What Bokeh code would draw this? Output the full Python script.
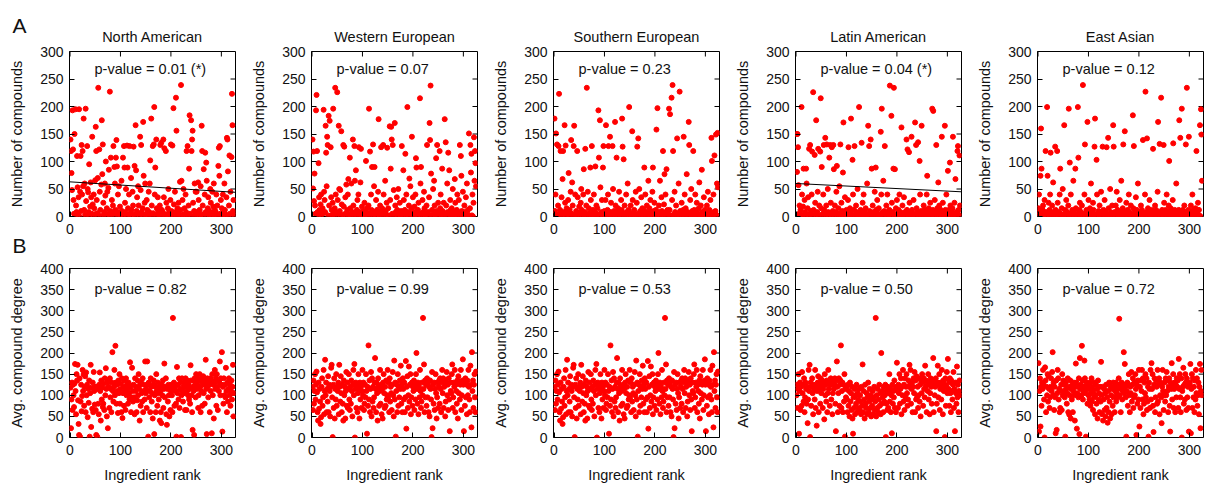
import numpy as np
from bokeh.plotting import figure
from bokeh.layouts import gridplot
from bokeh.models import Title, Label, Range1d, FixedTicker
from bokeh.embed import file_html
from bokeh.resources import INLINE

FONT = "Liberation Sans"

cuisines = ["North American", "Western European", "Southern European", "Latin American", "East Asian"]
pvalue_compounds = ["p-value = 0.01 (*)", "p-value = 0.07", "p-value = 0.23", "p-value = 0.04 (*)", "p-value = 0.12"]
pvalue_degree = ["p-value = 0.82", "p-value = 0.99", "p-value = 0.53", "p-value = 0.50", "p-value = 0.72"]
fit_intercept = [63, None, None, 60, None]
fit_slope = [-0.058, None, None, -0.046, None]
x_ticks = [0, 100, 200, 300]
compound_ticks = [0, 50, 100, 150, 200, 250, 300]
degree_ticks = [0, 50, 100, 150, 200, 250, 300, 350, 400]

# Number of compounds per ingredient, in ingredient-rank order
compounds_na = [
    140,119,79,48,193,122,30,5,150,2,195,20,8,110,53,3,35,195,0,45,110,10,130,40,119,
    55,178,12,60,3,196,28,0,128,50,44,8,95,2,18,62,35,5,145,22,0,40,15,4,66,
    163,119,30,6,70,234,2,122,45,12,0,58,175,77,131,25,3,8,60,38,100,0,15,45,5,
    52,85,3,227,10,107,0,30,6,20,128,2,90,60,12,107,139,91,4,40,8,55,0,18,3,
    5,65,10,0,107,2,128,89,25,8,50,0,129,89,15,3,40,128,6,0,70,12,2,45,20,
    127,3,92,0,166,84,10,35,6,55,20,2,0,145,48,130,8,3,15,172,74,0,25,60,4,
    2,30,12,5,0,45,8,60,102,3,178,20,0,128,6,131,199,40,89,2,140,15,0,35,10,
    5,0,20,130,2,134,12,0,8,140,35,124,3,0,119,25,4,0,15,50,2,8,0,30,131,
    10,0,129,3,197,22,0,45,8,216,156,2,15,0,25,5,0,63,12,239,65,0,30,3,50,
    2,15,0,40,8,119,0,128,3,20,87,184,5,0,175,119,140,156,25,0,10,60,2,45,8,
    45,0,6,62,30,2,12,0,55,3,165,119,20,0,86,5,40,116,8,98,65,0,15,35,3,
    10,0,50,25,2,6,45,0,18,60,3,12,0,8,40,2,20,0,92,125,74,128,5,30,0,
    15,2,40,0,8,60,12,0,3,35,143,140,82,2,20,111,5,45,0,108,223,166,10,30,3,
]
compounds_we = [
    140,51,118,28,78,20,5,193,221,119,8,2,97,35,12,0,22,40,3,10,15,6,194,45,30,
    8,165,116,55,145,130,2,183,20,174,0,126,35,12,3,25,196,5,0,15,234,40,8,2,226,
    30,5,165,50,10,48,2,155,22,0,3,130,18,127,0,35,6,58,2,12,40,68,0,4,107,
    15,2,60,0,8,140,20,3,128,65,5,84,0,12,30,2,40,126,0,8,62,123,3,18,0,
    5,10,0,25,3,8,101,0,15,2,6,20,196,0,118,5,40,12,90,0,131,3,55,90,8,
    2,30,0,12,5,45,177,3,0,20,8,126,0,15,2,130,40,6,0,65,10,3,25,125,0,
    15,2,0,164,30,87,163,140,5,130,0,48,3,170,20,8,0,35,12,2,50,0,6,25,3,
    0,10,128,5,2,84,30,0,12,114,3,40,0,199,8,2,20,69,0,55,6,15,145,0,35,
    2,0,18,8,40,106,89,0,3,12,25,0,5,215,60,90,2,0,30,8,0,45,15,3,0,
    5,20,130,0,8,2,35,170,139,238,78,0,12,3,50,0,65,20,4,0,106,10,130,2,25,
    0,6,119,15,40,3,0,87,10,2,25,0,177,5,135,20,0,60,8,116,0,84,3,30,12,
    2,15,0,50,8,3,0,68,25,5,0,12,40,2,0,30,6,130,0,110,74,10,3,45,0,
    8,20,0,5,35,2,60,0,12,3,151,0,15,130,80,114,2,40,0,25,144,65,119,97,55,
]
compounds_se = [
    178,10,40,151,2,131,0,20,128,223,5,12,119,0,35,3,68,119,8,0,166,25,129,2,15,
    0,8,30,79,2,12,0,45,139,5,62,20,0,128,165,3,40,0,10,2,119,35,0,6,18,
    5,0,25,50,12,2,0,40,86,3,8,123,0,20,234,2,45,0,15,6,0,89,30,3,128,
    0,12,3,40,8,2,91,0,20,5,15,0,193,107,2,175,53,0,8,30,3,89,128,0,10,
    2,30,166,0,5,12,40,128,3,0,145,8,25,0,2,128,50,0,10,3,172,20,0,107,6,
    0,15,2,45,8,0,3,30,12,178,127,0,104,5,20,0,2,40,8,0,60,3,12,199,0,
    5,20,0,2,155,30,0,8,12,3,0,45,2,25,127,0,142,6,50,0,10,3,35,0,15,
    3,0,12,89,0,40,8,2,20,0,5,65,0,15,3,30,0,8,2,45,89,0,10,25,3,
    0,12,158,3,197,5,0,20,8,65,2,0,35,10,0,119,3,22,77,0,40,8,86,0,12,
    5,0,196,12,186,0,2,216,30,239,119,3,0,45,8,2,20,0,142,5,0,60,3,227,10,
    0,8,25,3,0,12,145,2,40,0,15,5,77,0,8,2,172,130,0,30,3,50,0,10,2,
    119,0,12,3,40,0,8,25,2,0,5,15,62,0,3,20,0,85,8,0,2,35,0,12,5,
    3,0,20,8,45,2,0,12,5,30,0,143,101,2,0,40,8,111,0,10,149,3,60,152,53,
]
compounds_la = [
    150,81,150,126,57,5,20,0,12,3,199,40,2,18,87,0,30,8,2,87,60,0,15,35,3,
    123,0,130,10,5,40,118,2,226,12,0,112,25,3,175,0,8,45,123,2,20,0,118,215,15,
    90,0,5,40,130,12,0,143,3,20,131,0,50,8,2,107,0,130,25,3,126,0,10,130,86,
    3,20,0,8,45,92,2,0,15,5,55,0,131,3,25,0,10,80,171,2,0,35,8,0,12,
    0,5,30,126,2,0,15,8,178,0,3,103,40,0,12,128,2,0,20,8,0,50,3,0,199,
    5,0,12,2,134,0,25,3,40,0,8,2,15,0,3,60,0,165,2,128,10,0,140,5,87,
    0,20,3,8,0,45,2,89,12,0,30,3,0,15,5,2,0,154,40,196,0,8,65,2,10,
    128,0,5,20,2,40,0,8,3,12,238,0,2,183,25,0,8,87,234,3,86,0,15,2,30,
    5,0,12,2,40,0,8,3,162,0,20,2,5,35,0,8,2,0,140,12,122,3,0,117,25,
    0,8,2,145,12,0,3,30,5,0,171,2,130,15,0,8,135,3,0,101,40,2,10,165,0,
    5,0,20,3,12,0,8,2,40,74,0,3,15,0,8,25,2,0,5,196,12,192,0,3,30,
    2,0,130,8,15,0,62,3,20,0,5,12,2,145,0,25,8,3,0,165,12,2,40,0,5,
    83,0,12,3,98,20,2,8,0,15,145,3,0,25,5,68,0,8,2,119,128,12,3,111,20,
]
compounds_ea = [
    15,40,3,8,74,160,87,0,12,20,2,5,30,0,119,8,2,199,74,0,25,3,12,40,116,
    5,0,20,3,62,8,2,0,127,12,3,0,119,25,8,2,0,40,87,5,0,15,3,50,0,
    3,166,0,12,5,30,2,8,0,20,196,3,98,0,40,5,2,12,0,65,8,3,0,87,15,
    0,5,2,199,107,0,12,25,3,8,0,20,2,239,5,0,40,131,3,0,12,8,172,2,30,
    5,0,15,3,60,8,2,0,25,12,3,127,178,0,2,103,40,5,0,10,3,20,0,8,45,
    2,0,127,5,12,0,30,3,8,0,126,2,0,143,15,3,0,50,8,2,0,20,3,166,127,
    0,8,3,20,2,45,0,12,5,3,0,30,2,8,65,0,3,15,131,0,2,155,8,0,25,
    3,0,12,2,40,8,0,5,20,3,0,2,184,15,128,0,8,3,35,0,12,2,60,5,0,
    2,8,0,20,3,12,0,139,5,2,0,40,227,3,8,142,0,15,2,0,30,5,3,0,12,
    0,5,123,2,8,0,20,3,12,0,2,45,172,8,0,132,3,2,216,0,12,5,3,130,25,
    3,0,12,5,40,2,0,8,20,101,3,0,15,2,8,0,30,133,3,0,12,5,2,60,0,
    8,0,3,12,175,2,143,0,5,196,3,12,0,2,20,8,3,131,0,234,5,2,12,145,0,
    3,0,20,8,2,40,0,12,5,3,0,15,2,119,8,0,25,3,12,2,166,0,195,149,65,
]

# Average compound degree per ingredient, in ingredient-rank order
degree_na = [
    118,22,90,130,65,125,100,72,128,174,110,55,150,135,172,88,32,6,140,2,85,125,62,98,160,
    110,150,75,120,145,60,154,100,125,48,115,82,135,2,105,172,25,118,68,130,60,155,110,78,120,
    65,6,120,2,115,80,55,125,154,110,40,135,90,118,72,80,128,65,140,100,164,115,50,130,22,
    120,135,70,140,95,115,60,130,202,110,85,120,160,100,217,130,80,125,110,58,135,105,150,80,115,
    128,60,140,46,105,120,75,135,110,65,140,100,125,115,80,130,105,90,178,120,60,95,165,110,85,
    125,95,55,140,110,120,60,88,135,100,150,115,40,125,75,130,105,85,140,60,110,125,90,180,105,
    115,70,180,125,2,130,95,110,60,140,120,85,105,45,125,135,8,100,120,60,150,110,75,130,105,
    90,120,40,110,60,34,125,100,135,70,115,175,95,120,140,55,30,115,85,125,100,50,120,65,110,
    125,100,60,283,115,130,75,120,110,80,2,167,105,125,90,140,70,115,130,1,100,140,110,85,120,
    105,130,65,140,120,65,110,135,100,125,90,115,80,171,135,100,60,18,120,110,6,140,130,95,150,
    115,140,125,70,100,135,150,120,60,110,140,75,130,145,105,125,80,135,184,115,8,140,120,95,130,
    125,60,140,110,135,10,150,100,125,45,130,160,115,140,75,150,120,65,135,110,130,180,100,140,125,
    202,14,120,80,140,100,125,95,165,110,60,130,85,115,140,100,125,75,110,135,90,120,172,50,105,
]
degree_we = [
    120,65,135,80,110,150,90,125,156,107,60,40,130,68,115,85,32,48,120,140,75,95,160,55,110,
    184,100,130,60,115,85,145,60,125,110,50,120,165,172,95,1,125,70,140,45,115,90,150,75,120,
    110,130,55,172,120,85,145,105,60,125,80,40,135,100,120,45,110,155,75,130,70,115,150,90,65,
    120,80,135,110,50,125,160,100,174,0,115,130,70,125,60,105,150,115,45,130,90,120,70,110,160,
    100,130,65,80,125,95,150,110,9,120,75,218,90,135,60,115,155,50,140,85,120,70,95,130,188,
    115,60,130,105,40,140,120,75,110,160,80,125,55,115,45,130,150,105,70,120,75,135,90,100,160,
    95,130,60,140,85,120,105,65,125,155,100,50,182,90,130,2,110,125,60,150,75,120,95,135,115,
    170,80,125,60,140,115,90,130,60,95,181,21,120,145,70,100,168,85,125,150,55,95,130,75,120,
    110,135,65,125,90,150,200,115,80,130,55,120,95,160,110,70,85,130,100,283,115,173,60,135,95,
    125,75,140,95,130,60,120,50,135,115,90,1,155,22,125,80,130,65,115,150,105,45,95,130,70,
    120,135,80,140,115,60,130,160,105,140,70,120,135,50,85,130,155,100,125,65,140,90,15,130,110,
    105,150,173,70,95,130,120,160,60,125,110,80,135,45,145,105,130,90,125,160,65,100,135,185,125,
    15,130,75,140,95,125,55,135,100,160,120,90,60,170,125,24,202,110,135,70,125,150,95,60,156,
]
# the Southern European degree panel shows the same points as the Western European one
degree_se = list(degree_we)
degree_la = [
    100,125,70,115,150,9,110,130,65,120,75,155,105,125,85,140,60,95,130,115,80,120,34,90,160,
    110,172,1,130,75,120,140,105,55,125,115,90,160,70,120,28,110,130,145,60,125,115,80,140,105,
    120,135,70,115,130,43,150,100,125,85,135,60,105,160,115,130,75,125,140,90,135,55,105,130,115,
    125,140,80,15,135,180,120,60,105,140,75,125,135,218,70,110,130,60,125,85,150,2,115,95,120,
    90,60,125,75,110,50,130,85,105,65,120,45,9,95,70,115,55,100,80,125,60,105,90,70,115,
    65,100,85,55,120,75,173,60,110,90,45,125,80,70,105,55,95,130,60,85,115,70,100,50,90,
    75,110,55,95,120,65,85,283,50,100,70,115,60,90,125,75,105,55,200,80,110,95,60,120,85,
    100,125,1,80,110,65,120,70,105,150,85,115,60,100,10,125,80,110,95,135,70,115,60,120,177,
    110,70,125,105,150,80,115,140,55,120,100,160,85,125,65,140,95,120,150,105,75,90,135,120,172,
    125,160,80,115,130,60,120,140,105,155,60,135,90,145,95,120,70,100,140,85,125,50,135,105,150,
    130,75,140,115,95,170,120,135,60,125,110,150,90,130,55,105,140,120,80,125,135,188,60,130,100,
    120,140,15,80,130,170,95,125,150,65,115,130,90,160,120,55,135,110,125,1,140,75,120,155,105,
    186,115,130,75,140,105,60,135,110,90,125,155,70,115,15,130,105,80,168,95,125,60,110,135,100,
]
degree_ea = [
    176,14,110,140,26,120,75,130,115,160,125,90,0,166,135,60,120,100,150,85,145,115,70,95,120,
    140,110,155,202,100,130,65,120,95,10,135,18,105,160,140,90,115,60,70,110,125,65,150,100,135,
    110,125,95,2,130,115,80,105,140,60,120,54,100,135,45,115,90,125,60,110,130,100,40,120,175,
    130,21,105,120,95,140,8,188,115,125,100,217,135,90,110,120,182,140,105,2,130,115,80,125,100,
    115,90,130,75,105,140,85,120,65,110,95,130,55,100,125,80,115,45,135,90,105,60,120,85,179,
    100,55,120,40,90,115,65,105,50,125,70,95,35,110,60,130,85,45,120,100,55,115,75,130,95,
    120,60,110,130,85,105,125,95,115,140,281,100,125,60,115,130,90,110,125,202,105,174,120,95,2,
    110,130,75,125,150,100,60,120,105,155,85,125,140,70,95,130,100,150,115,6,125,80,135,90,160,
    26,120,70,135,110,160,90,140,55,80,130,105,150,95,140,65,85,120,2,130,115,70,160,90,176,
    115,150,75,13,125,140,60,95,135,120,80,160,85,125,140,55,100,130,95,34,120,160,110,65,100,
    130,85,140,100,155,110,135,60,120,140,75,14,130,115,176,90,125,150,70,115,130,60,125,95,140,
    120,135,70,186,115,150,95,60,140,0,110,120,165,80,125,90,150,130,65,140,95,120,70,14,125,
    130,174,10,115,150,70,140,95,120,60,135,90,160,105,140,75,100,130,55,120,174,22,110,160,100,
]

compounds = [compounds_na, compounds_we, compounds_se, compounds_la, compounds_ea]
degrees = [degree_na, degree_we, degree_se, degree_la, degree_ea]

LEFT = 69
FRAME_W = 166
X_START, X_END = -1, 328
TICK_LEN = 5  # px


def style_axis(ax, ticks, standoff):
    ax.ticker = FixedTicker(ticks=ticks)
    ax.axis_line_color = None
    ax.major_tick_in = TICK_LEN
    ax.major_tick_out = 0
    ax.major_tick_line_color = "black"
    ax.minor_tick_line_color = None
    ax.major_label_text_font = FONT
    ax.major_label_text_font_size = "14px"
    ax.major_label_text_color = "#111111"
    ax.major_label_standoff = standoff


def make_panel(col, row):
    last = col == 4
    right = 2 if last else 7
    if row == 0:
        height, top, bottom = 259, 51, 43
        ys = compounds[col]
        ymax, yticks, ylabel = 300, compound_ticks, "Number of compounds"
        ptxt = pvalue_compounds[col]
    else:
        height, top, bottom = 228, 9, 50
        ys = degrees[col]
        ymax, yticks, ylabel = 400, degree_ticks, "Avg. compound degree"
        ptxt = pvalue_degree[col]
    frame_h = height - top - bottom
    ranks = np.arange(1, len(ys) + 1)

    p = figure(width=LEFT + FRAME_W + right, height=height,
               x_range=Range1d(X_START, X_END), y_range=Range1d(0, ymax),
               output_backend="svg", toolbar_location=None, title=None,
               min_border_left=LEFT, min_border_right=right,
               min_border_top=top, min_border_bottom=bottom,
               background_fill_color="white", border_fill_color="white")
    p.outline_line_color = "black"
    p.outline_line_width = 1
    p.xgrid.visible = False
    p.ygrid.visible = False

    style_axis(p.xaxis[0], x_ticks, 7)
    style_axis(p.yaxis[0], yticks, 6)
    p.yaxis.axis_label = ylabel
    p.yaxis.axis_label_text_font = FONT
    p.yaxis.axis_label_text_font_size = "14.5px"
    p.yaxis.axis_label_text_font_style = "normal"
    p.yaxis.axis_label_text_color = "#111111"
    p.yaxis.axis_label_standoff = 12
    if row == 1:
        p.xaxis.axis_label = "Ingredient rank"
        p.xaxis.axis_label_text_font = FONT
        p.xaxis.axis_label_text_font_size = "14.5px"
        p.xaxis.axis_label_text_font_style = "normal"
        p.xaxis.axis_label_text_color = "#111111"
        p.xaxis.axis_label_standoff = 9

    # mirrored ticks on the top and right edges of the frame
    ty = TICK_LEN * ymax / frame_h
    tx = TICK_LEN * (X_END - X_START) / FRAME_W
    p.segment(x0=x_ticks, y0=[ymax] * len(x_ticks), x1=x_ticks, y1=[ymax - ty] * len(x_ticks),
              line_color="black", line_width=1)
    p.segment(x0=[X_END] * len(yticks), y0=yticks, x1=[X_END - tx] * len(yticks), y1=yticks,
              line_color="black", line_width=1)

    if row == 0:
        p.add_layout(Title(text=cuisines[col], align="center", text_font=FONT,
                           text_font_size="14.5px", text_font_style="normal",
                           text_color="#111111", standoff=13), "above")
        if col == 0:
            p.add_layout(Title(text="A", align="left", offset=-57, text_font=FONT,
                               text_font_size="21px", text_font_style="normal",
                               text_color="#111111", standoff=-33), "above")
            p.add_layout(Title(text="B", align="left", offset=-57, text_font=FONT,
                               text_font_size="21px", text_font_style="normal",
                               text_color="#111111", standoff=-5, vertical_align="top"), "below")

    p.scatter(ranks, ys, size=5, color="#ff0000", line_color="#ff0000")

    if row == 0 and fit_intercept[col] is not None:
        fx = np.array([X_START, X_END])
        fy = fit_intercept[col] + fit_slope[col] * fx
        p.line(fx, fy, line_color="black", line_width=1)

    p.add_layout(Label(x=25, y=frame_h - (17 if row == 0 else 20), x_units="screen", y_units="screen",
                       text=ptxt, text_font=FONT, text_font_size="14.5px",
                       text_baseline="middle", text_color="#111111"))
    return p


grid = gridplot([[make_panel(c, r) for c in range(5)] for r in range(2)], toolbar_location=None)

open("out.html", "w").write(file_html(grid, INLINE))
